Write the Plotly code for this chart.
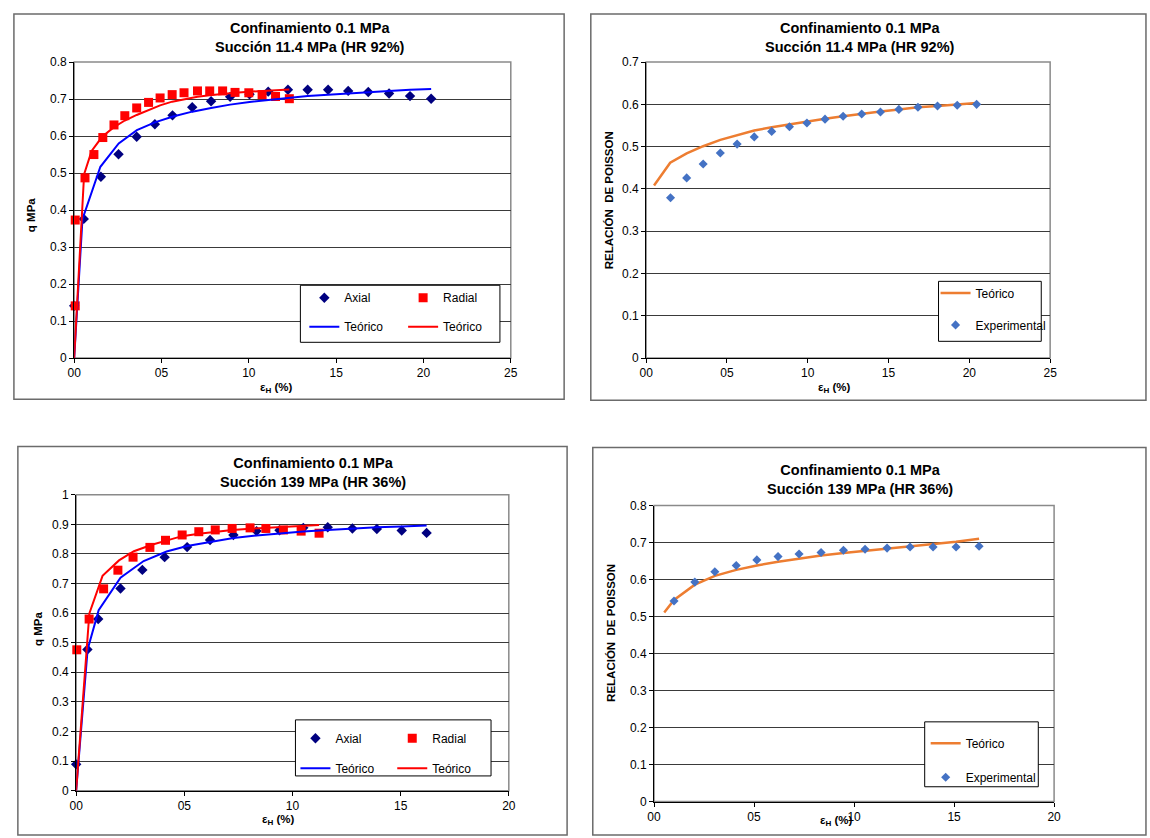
import plotly.graph_objects as go

W, H = 1150, 838
FONT = "Liberation Sans, Arial, sans-serif"

# ---- Panel 1: q vs strain, suction 11.4 MPa ----
p1_axial_x = [0.0, 0.55, 1.53, 2.54, 3.58, 4.62, 5.63, 6.76, 7.84, 8.93, 10.04, 11.11,
              12.24, 13.37, 14.54, 15.69, 16.84, 18.03, 19.23, 20.44]
p1_axial_y = [0.141, 0.376, 0.490, 0.551, 0.598, 0.632, 0.656, 0.678, 0.694, 0.706, 0.713,
              0.720, 0.725, 0.725, 0.725, 0.722, 0.719, 0.715, 0.708, 0.701]
p1_radial_x = [0.06, 0.06, 0.62, 1.13, 1.64, 2.28, 2.90, 3.58, 4.26, 4.92, 5.61, 6.29, 7.06,
               7.76, 8.50, 9.21, 10.00, 10.76, 11.53, 12.32]
p1_radial_y = [0.141, 0.373, 0.487, 0.550, 0.596, 0.630, 0.655, 0.676, 0.691, 0.703, 0.712,
               0.717, 0.722, 0.722, 0.722, 0.718, 0.717, 0.712, 0.707, 0.701]
p1_teo_ax_x = [0.0, 0.475, 1.50, 2.55, 3.59, 4.62, 5.66, 6.76, 7.84, 8.93, 10.04, 11.11,
               12.24, 13.37, 14.54, 15.69, 16.84, 18.03, 19.23, 20.44]
p1_teo_ax_y = [0.0, 0.375, 0.517, 0.580, 0.616, 0.637, 0.653, 0.666, 0.676, 0.685, 0.692,
               0.698, 0.703, 0.708, 0.712, 0.716, 0.719, 0.722, 0.725, 0.727]
p1_teo_rad_x = [0.0, 0.57, 1.00, 1.60, 2.28, 2.90, 3.58, 4.26, 4.92, 5.61, 6.29, 7.06, 7.76,
                8.50, 9.21, 10.00, 10.76, 11.53, 12.32]
p1_teo_rad_y = [0.0, 0.497, 0.560, 0.598, 0.624, 0.642, 0.657, 0.670, 0.683, 0.693, 0.700,
                0.706, 0.710, 0.714, 0.717, 0.720, 0.722, 0.724, 0.726]

# ---- Panel 2: Poisson ratio, suction 11.4 MPa ----
p2_exp_x = [1.51, 2.51, 3.53, 4.59, 5.63, 6.69, 7.77, 8.87, 9.95, 11.07, 12.19, 13.34,
            14.50, 15.64, 16.82, 18.03, 19.25, 20.45]
p2_exp_y = [0.379, 0.426, 0.459, 0.485, 0.506, 0.523, 0.536, 0.547, 0.556, 0.565, 0.572,
            0.577, 0.582, 0.588, 0.593, 0.596, 0.598, 0.600]
p2_teo_x = [0.49, 1.49, 2.51, 3.53, 4.59, 5.63, 6.69, 7.77, 8.87, 9.95, 11.07, 12.19,
            13.34, 14.50, 15.64, 16.82, 18.03, 19.25, 20.45]
p2_teo_y = [0.408, 0.462, 0.484, 0.501, 0.516, 0.527, 0.538, 0.546, 0.553, 0.559, 0.566,
            0.572, 0.578, 0.583, 0.588, 0.593, 0.596, 0.600, 0.603]

# ---- Panel 3: q vs strain, suction 139 MPa ----
p3_axial_x = [0.0, 0.52, 1.02, 2.05, 3.06, 4.09, 5.13, 6.19, 7.27, 8.34, 9.40, 10.50,
              11.63, 12.77, 13.90, 15.05, 16.20]
p3_axial_y = [0.089, 0.477, 0.580, 0.683, 0.746, 0.789, 0.823, 0.847, 0.864, 0.877, 0.880,
              0.888, 0.890, 0.886, 0.884, 0.879, 0.871]
p3_radial_x = [0.03, 0.60, 1.27, 1.93, 2.63, 3.41, 4.13, 4.90, 5.67, 6.43, 7.21, 8.04,
               8.77, 9.58, 10.40, 11.23]
p3_radial_y = [0.476, 0.580, 0.682, 0.745, 0.789, 0.822, 0.846, 0.864, 0.875, 0.881, 0.886,
               0.888, 0.886, 0.881, 0.877, 0.870]
p3_teo_ax_x = [0.0, 0.53, 1.04, 2.05, 3.12, 4.18, 5.13, 6.19, 7.27, 8.34, 9.40, 10.50,
               11.63, 12.77, 13.90, 15.05, 16.20]
p3_teo_ax_y = [0.0, 0.477, 0.610, 0.720, 0.776, 0.808, 0.827, 0.841, 0.854, 0.862, 0.870,
               0.876, 0.881, 0.886, 0.890, 0.893, 0.896]
p3_teo_rad_x = [0.0, 0.61, 1.22, 1.98, 2.67, 3.50, 4.41, 4.90, 5.67, 6.43, 7.21, 8.04,
                8.77, 9.58, 10.40, 11.23]
p3_teo_rad_y = [0.0, 0.599, 0.726, 0.778, 0.809, 0.831, 0.850, 0.860, 0.868, 0.875, 0.881,
                0.885, 0.888, 0.891, 0.894, 0.898]

# ---- Panel 4: Poisson ratio, suction 139 MPa ----
p4_exp_x = [1.00, 2.04, 3.04, 4.11, 5.14, 6.20, 7.25, 8.35, 9.47, 10.55, 11.65, 12.80,
            13.95, 15.10, 16.25]
p4_exp_y = [0.542, 0.593, 0.621, 0.638, 0.653, 0.662, 0.669, 0.673, 0.679, 0.682, 0.685,
            0.688, 0.688, 0.688, 0.690]
p4_teo_x = [0.51, 1.00, 2.04, 3.04, 4.11, 5.14, 6.20, 7.25, 8.35, 9.47, 10.55, 11.65,
            12.80, 13.95, 15.10, 16.25]
p4_teo_y = [0.511, 0.545, 0.586, 0.610, 0.626, 0.638, 0.648, 0.657, 0.665, 0.672, 0.678,
            0.683, 0.689, 0.695, 0.702, 0.710]

titles = ["Confinamiento 0.1 MPa<br>Succión 11.4 MPa (HR 92%)",
          "Confinamiento 0.1 MPa<br>Succión 11.4 MPa (HR 92%)",
          "Confinamiento 0.1 MPa<br>Succión 139 MPa (HR 36%)",
          "Confinamiento 0.1 MPa<br>Succión 139 MPa (HR 36%)"]
x_ticks_25 = ["00", "05", "10", "15", "20", "25"]
x_ticks_20 = ["00", "05", "10", "15", "20"]
ytitle_q = "q MPa"
ytitle_nu = "RELACIÓN\u00a0 DE POISSON"
xtitle = "ε<sub>H</sub> (%)"

NAVY = "#000080"
RED = "#FF0000"
BLUE = "#0000FF"
ORANGE = "#ED7D31"
LBLUE = "#4472C4"


def px_x(v):
    return v / W


def px_y(v):
    return 1 - v / H


fig = go.Figure()


def diamonds(x, y, name, color, size, xa, ya, legend, group):
    fig.add_trace(go.Scatter(x=x, y=y, mode="markers", name=name, xaxis=xa, yaxis=ya,
                             legend=legend, legendgroup=group, cliponaxis=False,
                             marker=dict(symbol="diamond", size=size, color=color)))


def squares(x, y, name, xa, ya, legend, group):
    fig.add_trace(go.Scatter(x=x, y=y, mode="markers", name=name, xaxis=xa, yaxis=ya,
                             legend=legend, legendgroup=group, cliponaxis=False,
                             marker=dict(symbol="square", size=9, color=RED)))


def line(x, y, name, color, width, xa, ya, legend, group):
    fig.add_trace(go.Scatter(x=x, y=y, mode="lines", name=name, xaxis=xa, yaxis=ya,
                             legend=legend, legendgroup=group, cliponaxis=False,
                             line=dict(color=color, width=width)))


# panel 1
diamonds(p1_axial_x, p1_axial_y, "Axial", NAVY, 8, "x", "y", "legend", "a1")
squares(p1_radial_x, p1_radial_y, "Radial", "x", "y", "legend2", "r1")
line(p1_teo_ax_x, p1_teo_ax_y, "Teórico", BLUE, 2, "x", "y", "legend", "ta1")
line(p1_teo_rad_x, p1_teo_rad_y, "Teórico", RED, 2, "x", "y", "legend2", "tr1")
# panel 2
line(p2_teo_x, p2_teo_y, "Teórico", ORANGE, 2.5, "x2", "y2", "legend3", "t2")
diamonds(p2_exp_x, p2_exp_y, "Experimental", LBLUE, 7, "x2", "y2", "legend3", "e2")
# panel 3
diamonds(p3_axial_x, p3_axial_y, "Axial", NAVY, 8, "x3", "y3", "legend4", "a3")
squares(p3_radial_x, p3_radial_y, "Radial", "x3", "y3", "legend5", "r3")
line(p3_teo_ax_x, p3_teo_ax_y, "Teórico", BLUE, 2, "x3", "y3", "legend4", "ta3")
line(p3_teo_rad_x, p3_teo_rad_y, "Teórico", RED, 2, "x3", "y3", "legend5", "tr3")
# panel 4
line(p4_teo_x, p4_teo_y, "Teórico", ORANGE, 2.5, "x4", "y4", "legend6", "t4")
diamonds(p4_exp_x, p4_exp_y, "Experimental", LBLUE, 7, "x4", "y4", "legend6", "e4")

# plot-area pixel boxes: (left, right, top, bottom)
areas = [(68, 510, 56, 357), (647, 1056, 56, 357), (70, 508, 496, 797), (655, 1060, 507, 808)]
xranges = [[0, 25], [0, 25], [0, 20], [0, 20]]
yranges = [[0, 0.8], [0, 0.7], [0, 1.0], [0, 0.8]]
xticks = [x_ticks_25, x_ticks_25, x_ticks_20, x_ticks_20]

tickfont = dict(family=FONT, size=12, color="#000")
layout = {}
for i, ((l, r, t, b), xr, yr, xt) in enumerate(zip(areas, xranges, yranges, xticks)):
    sfx = "" if i == 0 else str(i + 1)
    layout["xaxis" + sfx] = dict(
        domain=[px_x(l), px_x(r)], range=xr, anchor="y" + sfx,
        tickvals=list(range(0, xr[1] + 1, 5)), ticktext=xt,
        showgrid=False, zeroline=False, showline=True, linecolor="#000", linewidth=1,
        ticks="outside", ticklen=4, tickcolor="#000", tickfont=tickfont, fixedrange=True)
    layout["yaxis" + sfx] = dict(
        domain=[px_y(b), px_y(t)], range=yr, anchor="x" + sfx, dtick=0.1,
        showgrid=True, gridcolor="#3a3a3a", gridwidth=1,
        zeroline=False, showline=True, linecolor="#000", linewidth=1,
        ticks="outside", ticklen=4, tickcolor="#000", tickfont=tickfont, fixedrange=True)

shapes = []
# chart frames
frames = [(7, 7, 564, 399), (591, 7, 1153, 400), (11, 447, 567, 842), (593, 448, 1153, 842)]
for x0, y0, x1, y1 in frames:
    shapes.append(dict(type="rect", xref="paper", yref="paper", x0=px_x(x0), x1=px_x(x1),
                       y0=px_y(y1), y1=px_y(y0), line=dict(color="#6b6b6b", width=1.5),
                       fillcolor="rgba(0,0,0,0)", layer="below"))
# plot-area border (top and right edges in grey)
for i in range(4):
    sfx = "" if i == 0 else str(i + 1)
    shapes.append(dict(type="rect", xref="x%s domain" % sfx, yref="y%s domain" % sfx,
                       x0=0, x1=1, y0=0, y1=1, line=dict(color="#8a8a8a", width=1.5),
                       layer="below"))
# legend boxes
lboxes = [(297, 283, 499, 341), (943, 279, 1047, 340), (292, 725, 490, 782), (929, 727, 1044, 793)]
for x0, y0, x1, y1 in lboxes:
    shapes.append(dict(type="rect", xref="paper", yref="paper", x0=px_x(x0), x1=px_x(x1),
                       y0=px_y(y1), y1=px_y(y0), line=dict(color="#000", width=1),
                       fillcolor="#FFFFFF", layer="above"))

annotations = []
title_pos = [(307, 31), (864, 31), (310, 473), (864, 481)]
for (x, y), txt in zip(title_pos, titles):
    annotations.append(dict(xref="paper", yref="paper", x=px_x(x), y=px_y(y), text="<b>%s</b>" % txt,
                            showarrow=False, xanchor="center", yanchor="middle",
                            font=dict(family=FONT, size=14.5, color="#000")))
ytitles = [(25, 212, ytitle_q), (609, 197, ytitle_nu), (32, 633, ytitle_q), (612, 637, ytitle_nu)]
for x, y, txt in ytitles:
    annotations.append(dict(xref="paper", yref="paper", x=px_x(x), y=px_y(y), text="<b>%s</b>" % txt,
                            showarrow=False, textangle=-90, xanchor="center", yanchor="middle",
                            font=dict(family=FONT, size=11.5, color="#000")))
xtitles = [(273, 387), (838, 387), (275, 827), (840, 828)]
for x, y in xtitles:
    annotations.append(dict(xref="paper", yref="paper", x=px_x(x), y=px_y(y), text="<b>%s</b>" % xtitle,
                            showarrow=False, xanchor="center", yanchor="middle",
                            font=dict(family=FONT, size=11.5, color="#000")))

legfont = dict(family=FONT, size=12, color="#000")


def legend_cfg(x, top, gap):
    return dict(x=px_x(x), y=px_y(top), xanchor="left", yanchor="top", orientation="v",
                bgcolor="rgba(0,0,0,0)", borderwidth=0, font=legfont, tracegroupgap=gap,
                itemwidth=30, traceorder="grouped")


layout.update(
    width=W, height=H, margin=dict(l=0, r=0, t=0, b=0),
    paper_bgcolor="#FFFFFF", plot_bgcolor="#FFFFFF",
    font=dict(family=FONT, size=12, color="#000"),
    showlegend=True,
    legend=legend_cfg(301, 281, 10),
    legend2=legend_cfg(401, 281, 10),
    legend3=legend_cfg(940, 276, 13),
    legend4=legend_cfg(292, 729, 11),
    legend5=legend_cfg(390, 729, 11),
    legend6=legend_cfg(930, 734, 15),
    shapes=shapes, annotations=annotations,
)
fig.update_layout(layout)

fig.write_html("out.html")
